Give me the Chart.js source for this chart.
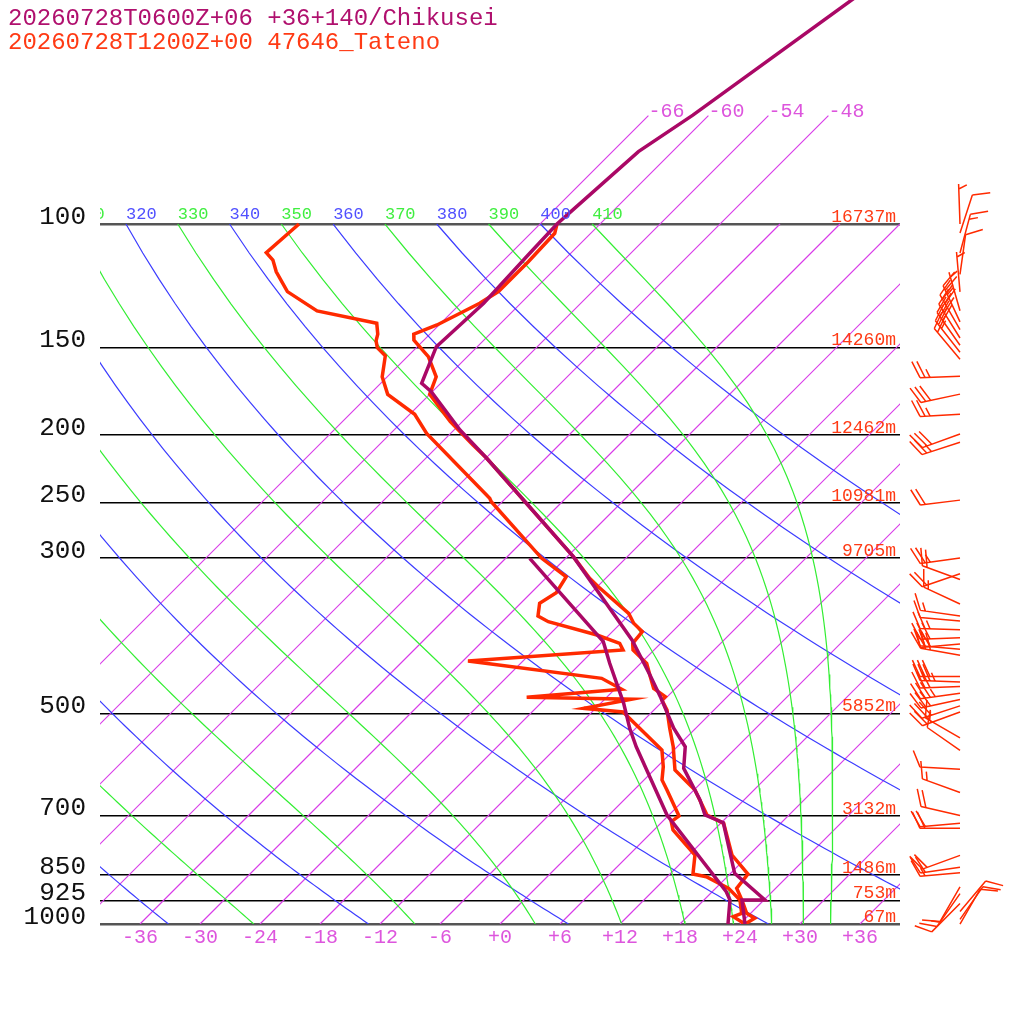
<!DOCTYPE html>
<html>
<head>
<meta charset="utf-8">
<style>
  html, body { margin: 0; padding: 0; background: #fff; }
  #wrap { width: 1024px; height: 1024px; }
</style>
<script src="https://cdn.jsdelivr.net/npm/chart.js@4.4.1/dist/chart.umd.min.js"></script>
</head>
<body>
<div id="wrap"><canvas id="skewt" width="1024" height="1024"></canvas></div>
<script>
// Chikusei forecast (purple): temperature and dew point, hPa / °C
const chikuseiTempP = [45.7, 69.9, 78.8, 97.1, 100, 110.1, 129.8, 149.7, 168.9, 173.6, 196.9, 216.1, 298.7, 392.9, 440.9, 473.4, 525.3, 558.2, 599.2, 665.1, 698.7, 716.6, 846.5, 924.2, 924.2, 1000];
const chikuseiTempT = [-56.7, -61.6, -63.4, -64.2, -64.3, -64.1, -63.7, -64.1, -61.9, -60.1, -53.4, -47.9, -29.4, -15.2, -9.9, -6.7, -2.2, 0.8, 2.8, 7.6, 9.6, 12.2, 18.4, 24.1, 21.8, 24.5];
const chikuseiDewP = [300.3, 395.1, 424.2, 483.9, 525.3, 558.2, 698.7, 899.3, 924.2, 1000];
const chikuseiDewT = [-33.6, -17.9, -15.1, -9.7, -6.6, -4.1, 5.8, 19.4, 20.6, 22.8];

// Tateno sounding (red)
const tatenoTempP = [100, 103.1, 113.2, 124.9, 129.8, 139.4, 143.7, 146.5, 154.7, 165.3, 175.1, 191.6, 206.9, 216.1, 298.7, 320.8, 329.7, 359.9, 371.9, 382.3, 397.2, 406.0, 424.2, 443.3, 460.6, 473.4, 478.7, 494.6, 525.3, 558.2, 602.6, 643.6, 698.7, 718.1, 797.0, 848.5, 889.3, 924.2, 965.5, 981.5, 1000];
const tatenoTempT = [-64.3, -63.6, -63.4, -63.4, -64.1, -66.2, -67.6, -67.0, -63.9, -61.1, -60.0, -55.2, -50.6, -47.9, -29.4, -25.6, -23.9, -18.2, -16.7, -15.0, -14.8, -14.1, -11.4, -9.7, -8.2, -6.2, -6.2, -4.7, -2.6, -0.4, 2.1, 6.1, 9.8, 12.3, 16.3, 19.8, 20.1, 21.8, 23.6, 24.9, 24.5];
const tatenoDewP = [100, 109.9, 112.6, 117.0, 124.9, 133.1, 138.6, 143.7, 146.9, 150.2, 154.2, 165.3, 175.1, 187.0, 199.1, 246.5, 249.3, 300.3, 319.1, 336.3, 348.3, 363.1, 369.9, 386.5, 397.2, 406.0, 421.0, 445.7, 462.1, 474.4, 477.5, 491.9, 497.9, 564.3, 596.1, 622.7, 643.6, 701.0, 714.3, 734.0, 797.0, 848.5, 856.0, 889.3, 924.2, 965.5, 976.3, 1000];
const tatenoDewT = [-90.1, -90.5, -89.1, -87.6, -84.5, -79.6, -72.4, -71.2, -70.7, -69.9, -68.3, -66.5, -64.2, -59.5, -56.4, -43.6, -43.1, -32.4, -28.1, -27.5, -28.1, -27.0, -25.4, -19.2, -16.1, -15.1, -29.5, -14.4, -11.3, -20.0, -9.3, -13.2, -8.9, -1.2, 0.6, 1.8, 3.3, 7.1, 6.9, 7.9, 12.6, 14.3, 15.9, 19.3, 21.6, 23.1, 22.6, 24.5];

// Tateno winds: pressure (hPa), direction (deg), speed (kt)
const windP = [100, 103, 110, 118, 125, 133, 138, 141.5, 145.5, 149, 152.5, 156, 165, 175, 187, 199.5, 205, 248, 300, 316, 322, 349, 363, 369, 380, 390, 398, 405, 413, 443, 451, 458, 468, 478, 488, 498, 542, 565, 601, 649, 700, 718, 730, 798, 830, 845, 885, 905, 935, 960, 985, 1000];
const windDir = [358, 18, 15, 8, 355, 344, 335, 330, 328, 325, 322, 320, 268, 258, 267, 250, 252, 263, 262, 251, 290, 295, 278, 275, 272, 268, 265, 275, 280, 270, 272, 268, 262, 258, 252, 250, 300, 305, 273, 290, 283, 265, 270, 250, 262, 265, 210, 215, 225, 40, 35, 30];
const windSpd = [5, 10, 15, 10, 5, 5, 25, 30, 30, 30, 25, 20, 25, 30, 25, 30, 25, 20, 25, 20, 20, 15, 15, 10, 25, 30, 30, 25, 30, 30, 35, 30, 35, 30, 30, 25, 15, 10, 10, 15, 20, 20, 20, 20, 20, 15, 10, 15, 10, 10, 10, 10];

// standard levels and Tateno heights
const pressureLevels = [100, 150, 200, 250, 300, 500, 700, 850, 925, 1000];
const heightLabels = ["16737m", "14260m", "12462m", "10981m", "9705m", "5852m", "3132m", "1486m", "753m", "67m"];
const tempTicks = [-36, -30, -24, -18, -12, -6, 0, 6, 12, 18, 24, 30, 36];

// background lines of the diagram
const isotherms = [-66, -60, -54, -48, -42, -36, -30, -24, -18, -12, -6, 0, 6, 12, 18, 24, 30, 36];
const labelledIsotherms = [-66, -60, -54, -48];
const dryThetas = [240, 260, 280, 300, 320, 340, 360, 380, 400];
const moistThetas = [250, 270, 290, 310, 330, 350, 370, 390, 410];

const titleTop = "20260728T0600Z+06 +36+140/Chikusei";
const titleBottom = "20260728T1200Z+00 47646_Tateno";

const P_TOP = 47.86;
const SKEW = 30.4;   // °C shift per ln(1000/p): 45 degree isotherms
const KAPPA = 0.2857;
const PURPLE = '#aa0866';
const RED = '#ff2a00';
const MONO = '"Liberation Mono", "DejaVu Sans Mono", monospace';

const skewX = (t, p) => t + SKEW * Math.log(1000 / p);
const profile = (ps, ts) => ps.map((p, i) => ({ x: skewX(ts[i], p), y: p }));

const curveLevels = [];
for (let p = 100; p <= 1000; p += 10) curveLevels.push(p);

function dryCurve(theta) {
  return curveLevels.map(p => ({ x: skewX(theta * Math.pow(p / 1000, KAPPA) - 273.15, p), y: p }));
}

function satMix(tk, p) {
  const es = 6.112 * Math.exp(17.67 * (tk - 273.15) / (tk - 29.65));
  return 0.622 * es / (p - es);
}
function moistLapse(tk, p) {
  const rs = satMix(tk, p);
  return (287.04 * tk + 2.501e6 * rs) / (1005.7 + 2.501e6 * 2.501e6 * rs * 0.622 / (287.04 * tk * tk)) / p;
}
// pseudo-adiabat followed down from 100 hPa, where it sits on theta
function moistCurve(theta) {
  let tk = theta * Math.pow(0.1, KAPPA);
  let p = 100;
  const h = 2;
  const pts = [{ x: skewX(tk - 273.15, p), y: p }];
  while (p < 1000) {
    const k1 = moistLapse(tk, p);
    const k2 = moistLapse(tk + h * k1 / 2, p + h / 2);
    const k3 = moistLapse(tk + h * k2 / 2, p + h / 2);
    const k4 = moistLapse(tk + h * k3, p + h);
    tk += h * (k1 + 2 * k2 + 2 * k3 + k4) / 6;
    p += h;
    if (p % 10 === 0) pts.push({ x: skewX(tk - 273.15, p), y: p });
  }
  return pts;
}

const datasets = [];
isotherms.forEach(t => {
  const top = labelledIsotherms.includes(t) ? 70 : 100;
  datasets.push({ data: [{ x: skewX(t, 1000), y: 1000 }, { x: skewX(t, top), y: top }],
    borderColor: '#d83ce8', borderWidth: 1.2, order: 50, clip: 0 });
});
dryThetas.forEach(th => datasets.push({ data: dryCurve(th), borderColor: '#3c3cff', borderWidth: 1.2, order: 40, clip: 0 }));
moistThetas.forEach(th => datasets.push({ data: moistCurve(th), borderColor: '#33ee33', borderWidth: 1.2, order: 30, clip: 0 }));
datasets.push({ data: profile(tatenoDewP, tatenoDewT), borderColor: RED, borderWidth: 3.5, order: 4 });
datasets.push({ data: profile(tatenoTempP, tatenoTempT), borderColor: RED, borderWidth: 3.5, order: 3 });
datasets.push({ data: profile(chikuseiDewP, chikuseiDewT), borderColor: PURPLE, borderWidth: 3.5, order: 2 });
datasets.push({ data: profile(chikuseiTempP, chikuseiTempT), borderColor: PURPLE, borderWidth: 3.5, order: 1 });

function drawBarb(ctx, x0, y0, dir, spd) {
  const a = dir * Math.PI / 180;
  const ux = Math.sin(a), uy = -Math.cos(a);
  const L = 40, F = 18, gap = 5;
  const tx = x0 + ux * L, ty = y0 + uy * L;
  const c = Math.cos(65 * Math.PI / 180), s = Math.sin(65 * Math.PI / 180);
  const fx = ux * c - uy * s, fy = ux * s + uy * c;
  ctx.beginPath();
  ctx.moveTo(x0, y0);
  ctx.lineTo(tx, ty);
  let rest = Math.round(spd / 5) * 5, pos = 0;
  while (rest >= 10) {
    const bx = tx - ux * pos, by = ty - uy * pos;
    ctx.moveTo(bx, by);
    ctx.lineTo(bx + fx * F, by + fy * F);
    pos += gap;
    rest -= 10;
  }
  if (rest >= 5) {
    if (pos === 0) pos = gap;
    const bx = tx - ux * pos, by = ty - uy * pos;
    ctx.moveTo(bx, by);
    ctx.lineTo(bx + fx * F / 2, by + fy * F / 2);
  }
  ctx.stroke();
}

const barbPlugin = {
  id: 'barbs',
  afterDatasetsDraw(chart) {
    const { ctx, chartArea, scales } = chart;
    ctx.save();
    ctx.strokeStyle = RED;
    ctx.lineWidth = 1.5;
    windP.forEach((p, i) => drawBarb(ctx, chartArea.right + 60, scales.y.getPixelForValue(p), windDir[i], windSpd[i]));
    ctx.restore();
  }
};

const textPlugin = {
  id: 'texts',
  afterDraw(chart) {
    const { ctx, chartArea, scales } = chart;
    ctx.save();
    ctx.textBaseline = 'alphabetic';
    ctx.textAlign = 'left';
    ctx.font = '24px ' + MONO;
    ctx.fillStyle = '#b0106e';
    ctx.fillText(titleTop, 8, 25);
    ctx.fillStyle = '#ff3a14';
    ctx.fillText(titleBottom, 8, 49);

    // isotherm labels above 100 hPa
    ctx.font = '20px ' + MONO;
    ctx.fillStyle = '#dd55dd';
    labelledIsotherms.forEach(t => {
      ctx.fillText(String(t), scales.x.getPixelForValue(skewX(t, 70)), scales.y.getPixelForValue(70) + 1);
    });

    // theta labels on the 100 hPa line
    ctx.save();
    ctx.beginPath();
    ctx.rect(chartArea.left, 0, chartArea.right - chartArea.left, 1024);
    ctx.clip();
    ctx.font = '17px ' + MONO;
    const y100 = scales.y.getPixelForValue(100) - 5;
    const thetas = dryThetas.concat(moistThetas).sort((a, b) => a - b);
    thetas.forEach(th => {
      if (th < 300) return;
      const t = th * Math.pow(0.1, KAPPA) - 273.15;
      ctx.fillStyle = dryThetas.includes(th) ? '#5050ff' : '#40ee40';
      ctx.fillText(String(th), scales.x.getPixelForValue(skewX(t, 100)), y100);
    });
    ctx.restore();

    // Tateno heights
    ctx.font = '18px ' + MONO;
    ctx.fillStyle = '#ff3a14';
    ctx.textAlign = 'right';
    pressureLevels.forEach((p, i) => {
      ctx.fillText(heightLabels[i], chartArea.right - 4, scales.y.getPixelForValue(p) - 2);
    });
    ctx.restore();
  }
};

const noPad = s => { s.paddingTop = 0; s.paddingBottom = 0; s.paddingLeft = 0; s.paddingRight = 0; };

new Chart(document.getElementById('skewt'), {
  type: 'line',
  data: { datasets },
  options: {
    responsive: false,
    animation: false,
    devicePixelRatio: 1,
    layout: { autoPadding: false, padding: { left: 0, right: 124, top: 0, bottom: 0 } },
    plugins: { legend: { display: false }, tooltip: { enabled: false } },
    elements: { point: { radius: 0 }, line: { tension: 0, fill: false } },
    scales: {
      x: {
        type: 'linear', position: 'bottom', min: -40, max: 40,
        afterBuildTicks: s => { s.ticks = tempTicks.map(v => ({ value: v })); },
        afterFit: s => { s.height = 100; noPad(s); },
        grid: { display: false },
        border: { display: false },
        ticks: {
          color: '#dd55dd', font: { family: MONO, size: 20 }, padding: -6,
          maxRotation: 0, autoSkip: false,
          callback: v => (v >= 0 ? '+' : '') + v
        }
      },
      y: {
        type: 'logarithmic', position: 'left', reverse: true, min: P_TOP, max: 1000, bounds: 'data',
        afterBuildTicks: s => { s.ticks = pressureLevels.map(v => ({ value: v })); },
        afterFit: s => { s.width = 100; noPad(s); },
        grid: {
          drawTicks: false,
          color: c => (c.tick && (c.tick.value === 100 || c.tick.value === 1000)) ? '#555' : '#000',
          lineWidth: c => (c.tick && (c.tick.value === 100 || c.tick.value === 1000)) ? 2.5 : 1.5
        },
        border: { display: false },
        ticks: {
          color: '#111', font: { family: MONO, size: 26 }, padding: 14, labelOffset: -7,
          autoSkip: false, callback: v => String(v)
        }
      }
    }
  },
  plugins: [barbPlugin, textPlugin]
});
</script>
</body>
</html>
